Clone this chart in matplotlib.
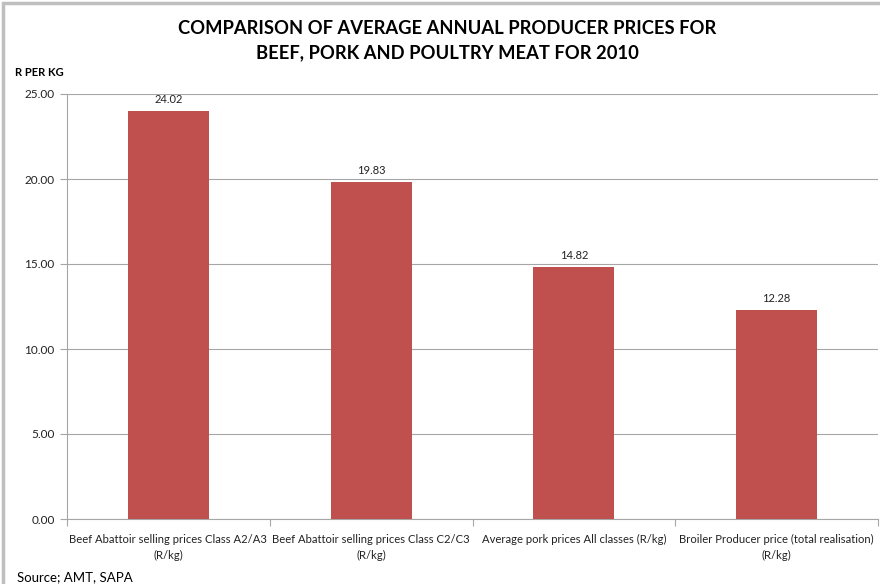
import numpy as np
import matplotlib
matplotlib.use('Agg')
import matplotlib.pyplot as plt
from matplotlib.patches import Rectangle

# Chart data
categories = ['Beef Abattoir selling prices Class A2/A3\n(R/kg)',
              'Beef Abattoir selling prices Class C2/C3\n(R/kg)',
              'Average pork prices All classes (R/kg)',
              'Broiler Producer price (total realisation)\n(R/kg)']
prices = [24.02, 19.83, 14.82, 12.28]
yticks = [0, 5, 10, 15, 20, 25]

plt.rcParams['font.family'] = ['Lato', 'DejaVu Sans']

fig = plt.figure(figsize=(8.8, 5.84), dpi=100)
ax = fig.add_axes([67/880, 1 - 519/584, (878 - 67)/880, (519 - 94)/584])

x = np.arange(len(prices))
bars = ax.bar(x, prices, width=0.4, color='#c0504d', zorder=3)
for b, v in zip(bars, prices):
    ax.text(b.get_x() + b.get_width()/2, v + 0.35, '%.2f' % v,
            ha='center', va='bottom', fontsize=8, color='#222222')

ax.set_xlim(-0.5, len(prices) - 0.5)
ax.set_ylim(0, 25)
ax.set_yticks(yticks)
ax.set_yticklabels(['%.2f' % t for t in yticks], fontsize=8.5, color='#222222')
ax.yaxis.grid(True, color='#a6a6a6', linewidth=0.8, zorder=0)

# category ticks on boundaries, labels at centers
ax.set_xticks(np.arange(-0.5, len(prices)), minor=False)
ax.set_xticklabels([])
ax.set_xticks(x, minor=True)
ax.set_xticklabels(categories, minor=True, fontsize=8.1, color='#222222', linespacing=1.5)
ax.tick_params(axis='x', which='minor', length=0, pad=11)
ax.tick_params(axis='x', which='major', length=5, color='#a6a6a6')
ax.tick_params(axis='y', length=5, color='#a6a6a6', pad=4)

for s in ['top', 'right']:
    ax.spines[s].set_visible(False)
ax.spines['left'].set_color('#a6a6a6')
ax.spines['bottom'].set_color('#a6a6a6')

fig.text(447/880, 1 - 41/584, 'COMPARISON OF AVERAGE ANNUAL PRODUCER PRICES FOR\nBEEF, PORK AND POULTRY MEAT FOR 2010',
         ha='center', va='center', fontsize=13.2, fontweight='bold', linespacing=1.5)
fig.text(15/880, 1 - 73/584, 'R PER KG', ha='left', va='center', fontsize=8, fontweight='bold')
fig.text(17/880, 1 - 577/584, 'Source; AMT, SAPA', ha='left', va='center', fontsize=9.5)

# chart border
fig.patches.append(Rectangle((3/880, -0.05), 1.05, 1 - 3/584 + 0.05, transform=fig.transFigure,
                             fill=False, edgecolor='#bfbfbf', linewidth=2.5))

fig.savefig('out.png', dpi=100)
